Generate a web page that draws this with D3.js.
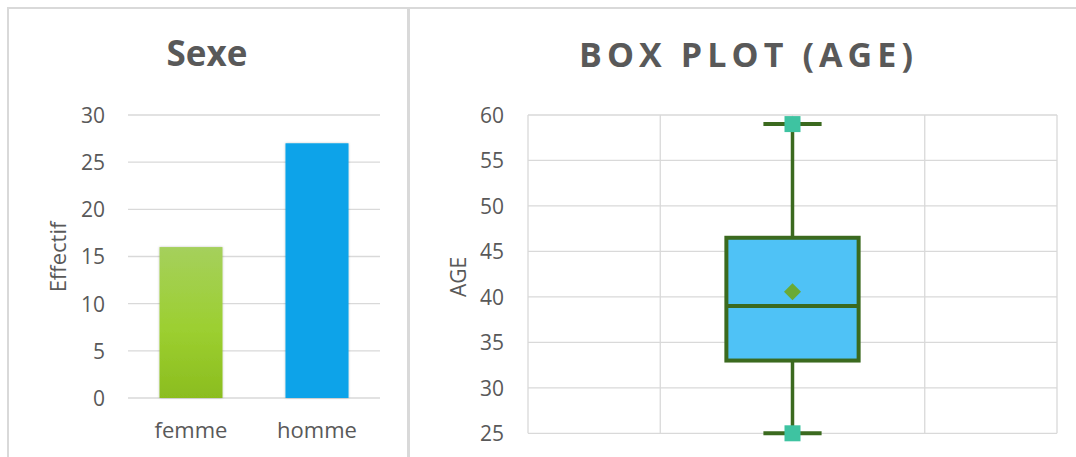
<!DOCTYPE html>
<html>
<head>
<meta charset="utf-8">
<script src="https://cdn.jsdelivr.net/npm/d3@7"></script>
<style>
  html, body { margin: 0; padding: 0; background: #ffffff; }
  svg { display: block; font-family: "Open Sans", "Noto Sans", sans-serif; }
</style>
</head>
<body>
<svg id="chart" width="1076" height="457"></svg>
<script>
// ---- data ----
const sexeCategories = ["femme", "homme"];
const sexeCounts = [16, 27];
const sexeTicks = [0, 5, 10, 15, 20, 25, 30];

const ageStatNames = ["min", "q1", "median", "q3", "max"];
const ageStatValues = [25, 33, 39, 46.5, 59];
const ageMean = [40.56];
const ageTicks = [25, 30, 35, 40, 45, 50, 55, 60];
const ageCategorySlots = [0, 1, 2, 3, 4];

const titles = ["Sexe", "BOX PLOT (AGE)"];
const axisTitles = ["Effectif", "AGE"];

// ---- setup ----
const svg = d3.select("#chart");
const textColor = "#595959";
const gridColor = "#d9d9d9";

const defs = svg.append("defs");
const grad = defs.append("linearGradient").attr("id", "gFemme")
  .attr("x1", 0).attr("y1", 0).attr("x2", 0).attr("y2", 1);
grad.append("stop").attr("offset", "0%").attr("stop-color", "#a5d05c");
grad.append("stop").attr("offset", "55%").attr("stop-color", "#9ccf30");
grad.append("stop").attr("offset", "100%").attr("stop-color", "#8bbd1f");
const shadow = defs.append("filter").attr("id", "shadow")
  .attr("x", "-20%").attr("y", "-20%").attr("width", "140%").attr("height", "140%");
shadow.append("feDropShadow").attr("dx", 0).attr("dy", 0).attr("stdDeviation", 1.2)
  .attr("flood-color", "#000").attr("flood-opacity", 0.25);

// panel borders
svg.append("rect").attr("x", 8).attr("y", 8).attr("width", 400).attr("height", 470)
  .attr("fill", "none").attr("stroke", gridColor).attr("stroke-width", 2);
svg.append("rect").attr("x", 409).attr("y", 8).attr("width", 700).attr("height", 470)
  .attr("fill", "none").attr("stroke", gridColor).attr("stroke-width", 2);

// ================= Left chart: Sexe =================
const left = svg.append("g");
const xS = d3.scaleBand().domain(sexeCategories).range([128, 380]).paddingInner(0.5).paddingOuter(0.25);
const yS = d3.scaleLinear().domain([0, 30]).range([398, 115]);

// gridlines
left.append("g").selectAll("line").data(sexeTicks).join("line")
  .attr("x1", 128).attr("x2", 380)
  .attr("y1", d => yS(d)).attr("y2", d => yS(d))
  .attr("stroke", gridColor).attr("stroke-width", 1.3);

// y axis labels
const yAxisS = d3.axisLeft(yS).tickValues(sexeTicks).tickSize(0).tickPadding(0);
const gyS = left.append("g").attr("transform", "translate(105,0)").call(yAxisS);
gyS.select(".domain").remove();
gyS.selectAll("text").attr("fill", textColor).style("font-size", "21px")
  .style("font-family", "'Open Sans', sans-serif").attr("dy", "0.35em");

// bars
left.append("g").selectAll("rect").data(sexeCategories).join("rect")
  .attr("x", d => xS(d)).attr("width", xS.bandwidth())
  .attr("y", (d, i) => yS(sexeCounts[i]))
  .attr("height", (d, i) => yS(0) - yS(sexeCounts[i]))
  .attr("fill", (d, i) => i === 0 ? "url(#gFemme)" : "#08a3e9")
  .attr("filter", "url(#shadow)");

// x labels
const xAxisS = d3.axisBottom(xS).tickSize(0).tickPadding(0);
const gxS = left.append("g").attr("transform", "translate(0,438)").call(xAxisS);
gxS.select(".domain").remove();
gxS.selectAll("text").attr("fill", textColor).attr("dy", 0).attr("y", 0)
  .style("font-size", "22px").style("font-family", "'Open Sans', sans-serif");

// axis title
left.append("text").attr("transform", "translate(66,257) rotate(-90)")
  .attr("text-anchor", "middle").attr("fill", textColor)
  .style("font-size", "22px").text(axisTitles[0]);

// title
left.append("text").attr("x", 207).attr("y", 66).attr("text-anchor", "middle")
  .attr("fill", textColor).style("font-size", "35px").style("font-weight", "bold")
  .text(titles[0]);

// ================= Right chart: Box plot =================
const right = svg.append("g");
const xB = d3.scaleLinear().domain([0, 4]).range([528, 1057]);
const yB = d3.scaleLinear().domain([25, 60]).range([433.3, 115]);

// horizontal gridlines
right.append("g").selectAll("line").data(ageTicks).join("line")
  .attr("x1", xB(0)).attr("x2", xB(4))
  .attr("y1", d => yB(d)).attr("y2", d => yB(d))
  .attr("stroke", gridColor).attr("stroke-width", 1.3);
// vertical gridlines
right.append("g").selectAll("line").data(ageCategorySlots).join("line")
  .attr("x1", d => xB(d)).attr("x2", d => xB(d))
  .attr("y1", yB(60)).attr("y2", yB(25))
  .attr("stroke", gridColor).attr("stroke-width", 1.3);

// y axis labels
const yAxisB = d3.axisLeft(yB).tickValues(ageTicks).tickSize(0).tickPadding(0);
const gyB = right.append("g").attr("transform", "translate(504,0)").call(yAxisB);
gyB.select(".domain").remove();
gyB.selectAll("text").attr("fill", textColor).style("font-size", "21px")
  .style("font-family", "'Open Sans', sans-serif").attr("dy", "0.35em");

const stat = name => ageStatValues[ageStatNames.indexOf(name)];
const cx = xB(2);
const boxHalf = (xB(1) - xB(0)) / 2;
const capHalf = boxHalf * 0.44;
const dark = "#3b6a1f";

// whiskers
right.append("line").attr("x1", cx).attr("x2", cx)
  .attr("y1", yB(stat("max"))).attr("y2", yB(stat("q3")))
  .attr("stroke", dark).attr("stroke-width", 3.5);
right.append("line").attr("x1", cx).attr("x2", cx)
  .attr("y1", yB(stat("q1"))).attr("y2", yB(stat("min")))
  .attr("stroke", dark).attr("stroke-width", 3.5);
right.append("g").selectAll("line").data(["max", "min"]).join("line")
  .attr("x1", cx - capHalf).attr("x2", cx + capHalf)
  .attr("y1", d => yB(stat(d))).attr("y2", d => yB(stat(d)))
  .attr("stroke", dark).attr("stroke-width", 4);

// box
right.append("rect")
  .attr("x", cx - boxHalf).attr("width", boxHalf * 2)
  .attr("y", yB(stat("q3"))).attr("height", yB(stat("q1")) - yB(stat("q3")))
  .attr("fill", "#4fc2f6").attr("stroke", dark).attr("stroke-width", 4);
// median
right.append("line").attr("x1", cx - boxHalf).attr("x2", cx + boxHalf)
  .attr("y1", yB(stat("median"))).attr("y2", yB(stat("median")))
  .attr("stroke", dark).attr("stroke-width", 4);

// mean marker
right.append("g").selectAll("path").data(ageMean).join("path")
  .attr("transform", d => `translate(${cx},${yB(d)})`)
  .attr("d", d3.symbol(d3.symbolDiamond2, 185)())
  .attr("fill", "#6aaa34");

// end squares
right.append("g").selectAll("rect.end").data(["max", "min"]).join("rect")
  .attr("class", "end")
  .attr("x", cx - 8).attr("width", 16)
  .attr("y", d => yB(stat(d)) - 8).attr("height", 16)
  .attr("fill", "#3ec3a1");

// axis title
right.append("text").attr("transform", "translate(466,277) rotate(-90)")
  .attr("text-anchor", "middle").attr("fill", textColor)
  .style("font-size", "21px").text(axisTitles[1]);

// title
right.append("text").attr("x", 746).attr("y", 67).attr("text-anchor", "middle")
  .attr("fill", textColor).style("font-size", "34px").style("font-weight", "bold")
  .attr("textLength", 334).attr("lengthAdjust", "spacing")
  .text(titles[1]);
</script>
</body>
</html>
